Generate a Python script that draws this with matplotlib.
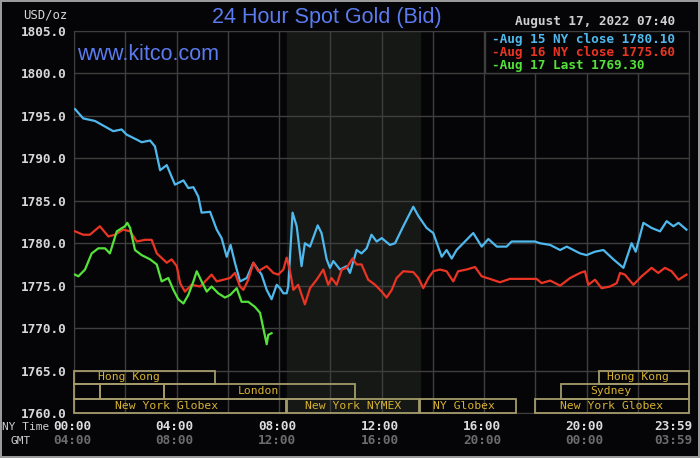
import matplotlib.pyplot as plt
import matplotlib.transforms as mtransforms
from matplotlib.patches import Rectangle

#### data (hours after 00:00 NY time, USD/oz)
aug15_h = [0.04, 0.36, 0.82, 1.53, 1.86, 2.05, 2.45, 2.64, 2.97, 3.16, 3.36, 3.62, 3.94, 4.27, 4.46,
           4.66, 4.85, 4.98, 5.31, 5.57, 5.76, 5.96, 6.11, 6.28, 6.48, 6.74, 7.0, 7.32, 7.52, 7.71,
           7.91, 8.04, 8.17, 8.30, 8.36, 8.53, 8.69, 8.88, 9.01, 9.21, 9.51, 9.66, 9.86, 9.99, 10.12,
           10.38, 10.64, 10.77, 11.03, 11.22, 11.42, 11.61, 11.81, 12.01, 12.33, 12.53, 12.85, 13.24,
           13.44, 13.76, 14.02, 14.35, 14.54, 14.74, 14.93, 15.19, 15.58, 15.91, 16.17, 16.5, 16.88,
           17.08, 17.99, 18.18, 18.58, 18.97, 19.23, 19.49, 19.75, 20.0, 20.33, 20.66, 21.05, 21.44,
           21.76, 21.92, 22.22, 22.54, 22.87, 23.13, 23.39, 23.59, 23.9]
aug15_p = [1795.8, 1794.7, 1794.4, 1793.2, 1793.4, 1792.8, 1792.2, 1791.9, 1792.1, 1791.4, 1788.6,
           1789.2, 1786.9, 1787.4, 1786.5, 1786.6, 1785.5, 1783.6, 1783.7, 1781.6, 1780.6, 1778.4,
           1779.8, 1777.7, 1775.5, 1775.9, 1777.7, 1776.3, 1774.5, 1773.4, 1775.1, 1774.7, 1774.1,
           1774.1, 1774.9, 1783.6, 1782.0, 1777.3, 1780.0, 1779.6, 1782.1, 1781.2, 1778.1, 1777.1,
           1777.9, 1776.9, 1777.3, 1776.5, 1779.2, 1778.8, 1779.4, 1781.0, 1780.2, 1780.6, 1779.8,
           1780.0, 1782.0, 1784.3, 1783.2, 1781.8, 1781.2, 1778.4, 1779.2, 1778.2, 1779.2, 1780.0,
           1781.2, 1779.6, 1780.5, 1779.6, 1779.6, 1780.2, 1780.2, 1780.0, 1779.8, 1779.2, 1779.6,
           1779.2, 1778.8, 1778.6, 1779.0, 1779.2, 1778.1, 1777.1, 1780.0, 1779.0, 1782.4, 1781.8,
           1781.4, 1782.6, 1782.0, 1782.4, 1781.6]

aug16_h = [0.04, 0.36, 0.62, 1.01, 1.34, 1.6, 1.92, 2.19, 2.45, 2.77, 3.03, 3.23, 3.62, 3.81, 4.01,
           4.14, 4.33, 4.59, 4.92, 5.18, 5.37, 5.57, 5.83, 6.09, 6.28, 6.48, 6.61, 6.8, 7.0, 7.19,
           7.52, 7.78, 7.97, 8.17, 8.30, 8.43, 8.56, 8.75, 9.01, 9.21, 9.47, 9.73, 9.92, 10.05, 10.25,
           10.45, 10.64, 10.87, 11.03, 11.22, 11.48, 11.75, 12.01, 12.2, 12.4, 12.59, 12.85, 13.24,
           13.44, 13.63, 13.83, 14.02, 14.28, 14.54, 14.80, 14.99, 15.32, 15.65, 15.91, 16.23, 16.62,
           17.01, 18.05, 18.25, 18.58, 18.97, 19.36, 19.75, 19.94, 20.07, 20.33, 20.59, 20.92, 21.18,
           21.31, 21.5, 21.83, 22.15, 22.54, 22.80, 23.06, 23.32, 23.59, 23.9]
aug16_p = [1781.4, 1781.0, 1781.0, 1782.0, 1780.8, 1781.0, 1781.6, 1781.4, 1780.2, 1780.4, 1780.4,
           1778.8, 1777.7, 1778.1, 1777.3, 1775.3, 1774.3, 1775.1, 1774.9, 1775.7, 1776.3, 1775.5,
           1775.7, 1775.9, 1776.5, 1774.9, 1774.5, 1775.7, 1777.7, 1776.7, 1777.3, 1776.5, 1776.3,
           1776.9, 1778.3, 1776.7, 1774.5, 1775.1, 1772.8, 1774.7, 1775.7, 1776.9, 1775.1, 1775.9,
           1775.1, 1776.9, 1777.1, 1778.2, 1777.5, 1777.5, 1775.7, 1775.1, 1774.3, 1773.6, 1774.5,
           1775.9, 1776.7, 1776.6, 1775.9, 1774.7, 1775.9, 1776.7, 1776.9, 1776.7, 1775.5, 1776.7,
           1776.9, 1777.2, 1776.1, 1775.8, 1775.4, 1775.8, 1775.8, 1775.3, 1775.6, 1775.0, 1775.9,
           1776.5, 1776.7, 1775.1, 1775.7, 1774.7, 1774.9, 1775.3, 1776.5, 1776.3, 1775.1, 1776.1,
           1777.1, 1776.5, 1777.1, 1776.7, 1775.7, 1776.3]

aug17_h = [0.04, 0.17, 0.43, 0.69, 0.95, 1.21, 1.40, 1.67, 1.99, 2.08, 2.19, 2.38, 2.64, 2.97, 3.23,
           3.42, 3.68, 3.88, 4.07, 4.27, 4.46, 4.66, 4.79, 4.98, 5.18, 5.37, 5.63, 5.89, 6.09, 6.35,
           6.54, 6.80, 7.06, 7.26, 7.52, 7.58, 7.71]
aug17_p = [1776.3, 1776.1, 1776.9, 1778.8, 1779.4, 1779.4, 1778.8, 1781.4, 1782.0, 1782.4, 1781.8,
           1779.2, 1778.6, 1778.1, 1777.5, 1775.5, 1775.9, 1774.5, 1773.4, 1772.9, 1773.9, 1775.5,
           1776.7, 1775.5, 1774.3, 1774.9, 1774.1, 1773.6, 1773.9, 1774.7, 1773.1, 1773.1, 1772.5,
           1771.8, 1768.1, 1769.2, 1769.4]

legend_labels = ["-Aug 15 NY close 1780.10", "-Aug 16 NY close 1775.60", "-Aug 17 Last 1769.30"]

y_ticks = [1760, 1765, 1770, 1775, 1780, 1785, 1790, 1795, 1800, 1805]
x_label_pos = [0, 4, 8, 12, 16, 20, 23.45]
ny_labels = ["00:00", "04:00", "08:00", "12:00", "16:00", "20:00", "23:59"]
gmt_labels = ["04:00", "08:00", "12:00", "16:00", "20:00", "00:00", "03:59"]

nymex_open, nymex_close = 8.33, 13.5

## trading sessions: (row, start, end, label, label position)
sessions = [
    (0, 0.0, 5.5, "Hong Kong", 2.15),
    (0, 20.5, 24.0, "Hong Kong", 22.0),
    (1, 0.0, 1.0, "", 0),
    (1, 1.0, 3.5, "", 0),
    (1, 3.5, 10.98, "London", 7.2),
    (1, 19.0, 24.0, "Sydney", 20.96),
    (2, 0.0, 8.28, "New York Globex", 3.63),
    (2, 8.33, 13.45, "New York NYMEX", 10.9),
    (2, 13.5, 17.25, "NY Globex", 15.2),
    (2, 18.0, 24.0, "New York Globex", 20.96),
]

#### colours
BG = "#050507"
GRID = "#3e3e3e"
SHADE = "#161815"
BLUE = "#4fb8ec"
RED = "#ea3424"
GREEN = "#55e23a"
TITLE = "#5b7bf0"
GOLD = "#d8b232"
BOX = "#a39b6a"
MONO = "DejaVu Sans Mono"

W, H = 700, 458
fig = plt.figure(figsize=(7, 4.58), dpi=100, facecolor=BG)
fig.patch.set_edgecolor("#9a9a9a")
fig.patch.set_linewidth(1.5)
ax = fig.add_axes([74 / W, 1 - 413 / H, 615 / W, 382 / H], facecolor=BG)

ax.set_xlim(0, 24)
ax.set_ylim(1760, 1805)

## NYMEX hours shading
ax.axvspan(nymex_open, nymex_close, color=SHADE, zorder=0)

## grid
ax.set_xticks(range(0, 25, 2))
ax.set_xticklabels([])
ax.set_yticks(y_ticks)
ax.set_yticklabels([f"{v:.1f}" for v in y_ticks], family=MONO, fontsize=9.2,
                   fontweight="bold", color="#d8d8d8")
ax.tick_params(length=0, pad=5)
ax.grid(True, color=GRID, linewidth=1, zorder=1)
for s in ax.spines.values():
    s.set_color(GRID)

## the three days
ax.plot(aug15_h, aug15_p, color=BLUE, lw=1.6, zorder=3)
ax.plot(aug16_h, aug16_p, color=RED, lw=1.6, zorder=3)
ax.plot(aug17_h, aug17_p, color=GREEN, lw=1.6, zorder=3)

## session boxes along the bottom
row_bounds = [(1763.45, 1765.0), (1761.7, 1763.45), (1760.05, 1761.7)]
for row, start, end, label, lx in sessions:
    y0, y1 = row_bounds[row]
    ax.add_patch(Rectangle((start, y0), end - start, y1 - y0, fill=False,
                           edgecolor=BOX, lw=1.3, zorder=4, clip_on=False))
    if label:
        ax.text(lx, (y0 + y1) / 2, label, family=MONO, fontsize=8.2, color=GOLD,
                ha="center", va="center", zorder=5)

## legend box in top right cell
ax.add_patch(Rectangle((16.04, 1800), 24 - 16.04, 5, facecolor=BG, edgecolor=GRID,
                       lw=1, zorder=6))
for lab, col, yy in zip(legend_labels, [BLUE, RED, GREEN], [1804.05, 1802.5, 1800.9]):
    ax.text(16.3, yy, lab, family=MONO, fontsize=9.2, fontweight="bold", color=col,
            ha="left", va="center", zorder=7)

## time labels under the axis
trans = mtransforms.blended_transform_factory(ax.transData, fig.transFigure)
for xp, ny, gmt in zip(x_label_pos, ny_labels, gmt_labels):
    ax.text(xp - 0.08, 1 - 427 / H, ny, transform=trans, family=MONO, fontsize=9.2,
            fontweight="bold", color="#dcdcdc", ha="center", va="center")
    ax.text(xp - 0.08, 1 - 441 / H, gmt, transform=trans, family=MONO, fontsize=9.2,
            fontweight="bold", color="#6c6c6c", ha="center", va="center")
fig.text(26 / W, 1 - 427 / H, "NY Time", family=MONO, fontsize=8, color="#cfcfcf",
         ha="center", va="center")
fig.text(21 / W, 1 - 441 / H, "GMT", family=MONO, fontsize=8, color="#cfcfcf",
         ha="center", va="center")

## titles and captions
fig.text(327 / W, 1 - 18 / H, "24 Hour Spot Gold (Bid)", family="Liberation Sans",
         fontsize=15.5, color=TITLE, ha="center", va="center")
ax.text(77 / W, 1 - 54 / H, "www.kitco.com", transform=fig.transFigure,
        family="Liberation Sans", fontsize=15.5, color=TITLE, ha="left", va="center", zorder=8)
fig.text(45 / W, 1 - 15 / H, "USD/oz", family=MONO, fontsize=8.8, color="#d8d8d8",
         ha="center", va="center")
fig.text(595 / W, 1 - 22 / H, "August 17, 2022 07:40", family=MONO, fontsize=9.2,
         fontweight="bold", color="#cfcfcf", ha="center", va="center")

plt.savefig("out.png", dpi=100, facecolor=BG, edgecolor=fig.patch.get_edgecolor())
